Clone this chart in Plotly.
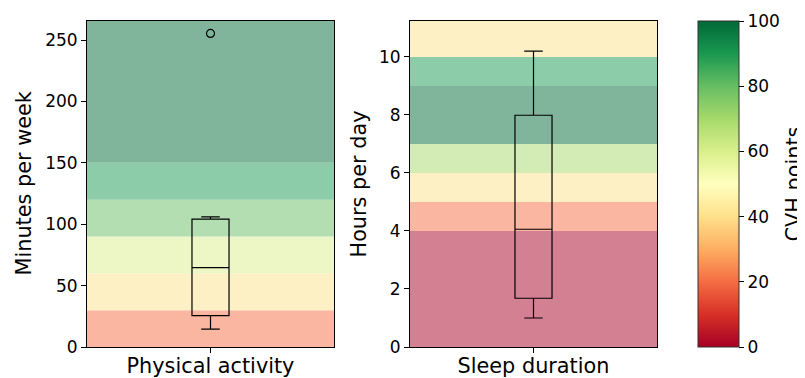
import plotly.graph_objects as go
from plotly.colors import sample_colorscale, diverging

# ---------------- data ----------------
pa_label = "Physical activity"
pa_stats = dict(lowerfence=14.5, q1=25.5, median=64.6, q3=104.2, upperfence=105.9)
pa_outliers = [255.4]
pa_edges = [0, 30, 60, 90, 120, 150, 265.5]
pa_points = [20, 40, 60, 80, 90, 100]
pa_yticks = [0, 50, 100, 150, 200, 250]

sl_label = "Sleep duration"
sl_stats = dict(lowerfence=1.0, q1=1.68, median=4.06, q3=7.99, upperfence=10.2)
sl_outliers = []
sl_edges = [0, 4, 5, 6, 7, 9, 10, 11.24]
sl_points = [0, 20, 40, 70, 100, 90, 40]
sl_yticks = [0, 2, 4, 6, 8, 10]

cbar_ticks = [0, 20, 40, 60, 80, 100]

# ---------------- layout constants ----------------
OFF = 8  # page body margin
W, H = 805 - OFF, 378 - OFF
FONT = "DejaVu Sans"
TICK_FS = 17
LAB_FS = 20.8


def px(x):
    return (x - OFF) / W


def py(y):
    return (H - (y - OFF)) / H


ytop, ybot = 21, 347
dom_y = [py(ybot), py(ytop)]
dom_x1 = [px(87), px(334)]
dom_x2 = [px(410), px(657)]

scale = diverging.RdYlGn


def band_color(p):
    c = sample_colorscale(scale, [p / 100.0], colortype="tuple")[0]
    # matplotlib-style alpha 0.5 over white
    r, g, b = [v * 255 if v <= 1 else v for v in c]
    return "rgb(%d,%d,%d)" % (round((r + 255) / 2), round((g + 255) / 2), round((b + 255) / 2))


fig = go.Figure()

shapes = []
for xref, yref, edges, pts in [("x", "y", pa_edges, pa_points), ("x2", "y2", sl_edges, sl_points)]:
    for i, p in enumerate(pts):
        shapes.append(dict(type="rect", xref=xref + " domain", yref=yref,
                           x0=0, x1=1, y0=edges[i], y1=edges[i + 1],
                           fillcolor=band_color(p), line=dict(width=0), layer="below"))

for xa, ya, stats, outl in [("x", "y", pa_stats, pa_outliers), ("x2", "y2", sl_stats, sl_outliers)]:
    fig.add_trace(go.Box(
        x=[1], q1=[stats["q1"]], median=[stats["median"]], q3=[stats["q3"]],
        lowerfence=[stats["lowerfence"]], upperfence=[stats["upperfence"]],
        width=0.15, whiskerwidth=0.5, boxpoints=False,
        fillcolor="rgba(0,0,0,0)", line=dict(color="black", width=1.2),
        xaxis=xa, yaxis=ya, showlegend=False, hoverinfo="skip"))
    if outl:
        fig.add_trace(go.Scatter(
            x=[1] * len(outl), y=outl, mode="markers",
            marker=dict(symbol="circle-open", size=8, color="black", line=dict(width=1.2, color="black")),
            xaxis=xa, yaxis=ya, showlegend=False, hoverinfo="skip"))

# colorbar carrier
fig.add_trace(go.Scatter(
    x=[1], y=[0], mode="markers", xaxis="x", yaxis="y", showlegend=False, hoverinfo="skip",
    marker=dict(color=[0], cmin=0, cmax=100, colorscale="RdYlGn", opacity=0, showscale=True,
                colorbar=dict(x=px(698), xanchor="left", xpad=0, ypad=0,
                              y=(dom_y[0] + dom_y[1]) / 2, yanchor="middle",
                              lenmode="pixels", len=ybot - ytop,
                              thicknessmode="pixels", thickness=41,
                              outlinecolor="#333", outlinewidth=1,
                              tickvals=cbar_ticks, ticks="outside", ticklen=5, tickwidth=1.1,
                              tickcolor="black",
                              tickfont=dict(family=FONT, size=TICK_FS, color="black")))))

axis_common = dict(showgrid=False, zeroline=False, showline=True, mirror=True,
                   linecolor="black", linewidth=1, ticks="outside", ticklen=5, tickwidth=1.1,
                   tickcolor="black", automargin=False)

ymid = py(184)
fig.update_layout(
    width=W, height=H, margin=dict(l=0, r=0, t=0, b=0, autoexpand=False),
    paper_bgcolor="white", plot_bgcolor="white",
    font=dict(family=FONT, color="black"),
    shapes=shapes,
    xaxis=dict(domain=dom_x1, range=[0.5, 1.5], tickvals=[1], ticktext=[pa_label],
               tickfont=dict(size=LAB_FS), ticklabelstandoff=-5, anchor="y", **axis_common),
    yaxis=dict(domain=dom_y, range=[pa_edges[0], pa_edges[-1]], tickvals=pa_yticks,
               tickfont=dict(size=TICK_FS), anchor="x", **axis_common),
    xaxis2=dict(domain=dom_x2, range=[0.5, 1.5], tickvals=[1], ticktext=[sl_label],
                tickfont=dict(size=LAB_FS), ticklabelstandoff=-5, anchor="y2", **axis_common),
    yaxis2=dict(domain=dom_y, range=[sl_edges[0], sl_edges[-1]], tickvals=sl_yticks,
                tickfont=dict(size=TICK_FS), anchor="x2", **axis_common),
    annotations=[
        dict(text="Minutes per week", xref="paper", yref="paper", x=px(23.5), y=ymid,
             textangle=-90, showarrow=False, font=dict(size=LAB_FS), xanchor="center", yanchor="middle"),
        dict(text="Hours per day", xref="paper", yref="paper", x=px(358.5), y=ymid,
             textangle=-90, showarrow=False, font=dict(size=LAB_FS), xanchor="center", yanchor="middle"),
        dict(text="CVH points", xref="paper", yref="paper", x=px(793.5), y=ymid,
             textangle=-90, showarrow=False, font=dict(size=LAB_FS), xanchor="center", yanchor="middle"),
    ],
)

fig.write_html("out.html")
